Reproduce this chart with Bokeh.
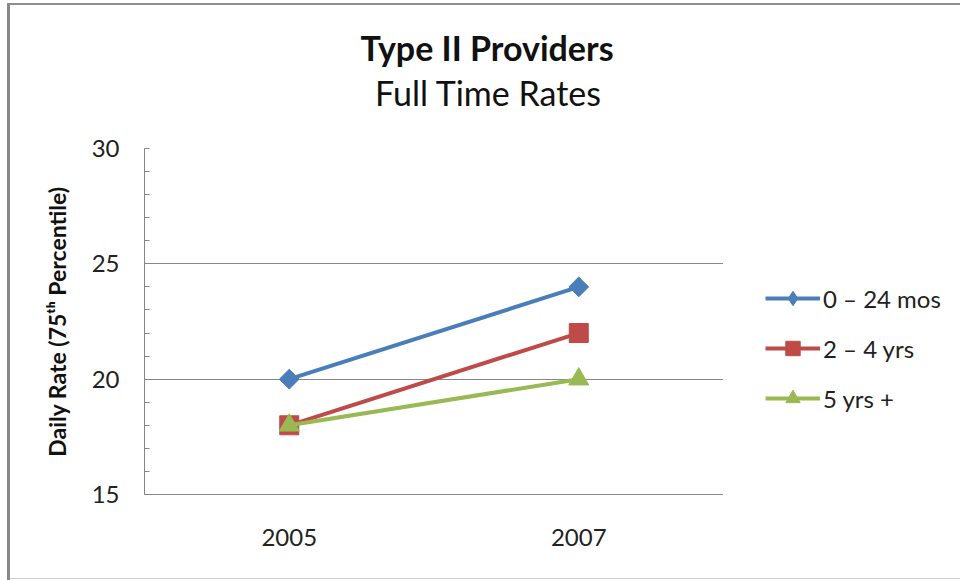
import math
from bokeh.plotting import figure
from bokeh.models import Range1d, FactorRange, Legend, LegendItem, FixedTicker, Div
from bokeh.layouts import column, row
from bokeh.embed import file_html
from bokeh.resources import INLINE

years = ["2005", "2007"]
series_names = ["0 \u2013 24 mos", "2 \u2013 4 yrs", "5 yrs +"]
vals_0_24 = [20, 24]
vals_2_4 = [18, 22]
vals_5_plus = [18, 20]
y_ticks = [15, 20, 25, 30]
title_main = "Type II Providers"
title_sub = "Full Time Rates"
y_label = "Daily Rate (75\u1d57\u02b0 Percentile)"

FONT = "Lato"
colors = ["#4A7EBB", "#BE4B48", "#98B954"]


def add_series(fig, diamond_as_square=True):
    r1 = fig.line(years, vals_0_24, line_color=colors[0], line_width=4)
    if diamond_as_square:
        m1 = fig.scatter(years, vals_0_24, marker="square", size=14, angle=math.pi / 4,
                         fill_color=colors[0], line_color=colors[0])
    else:
        m1 = fig.scatter(years, vals_0_24, marker="diamond", size=20,
                         fill_color=colors[0], line_color=colors[0])
    r2 = fig.line(years, vals_2_4, line_color=colors[1], line_width=4)
    m2 = fig.scatter(years, vals_2_4, marker="square", size=19, fill_color=colors[1], line_color=colors[1])
    r3 = fig.line(years, vals_5_plus, line_color=colors[2], line_width=4)
    m3 = fig.scatter(years, vals_5_plus, marker="triangle", size=20, fill_color=colors[2], line_color=colors[2])
    return [(r1, m1), (r2, m2), (r3, m3)]


# title block
title_div = Div(
    width=960, height=128,
    text=('<div style="position:relative;width:960px;height:128px;font-family:Lato;color:#111111">'
          '<div style="position:absolute;left:0;top:27px;width:974px;text-align:center;'
          'font-weight:bold;font-size:34px;line-height:42px;">' + title_main + '</div>'
          '<div style="position:absolute;left:0;top:72px;width:976px;text-align:center;'
          'font-weight:normal;font-size:34px;line-height:42px;">' + title_sub + '</div></div>'),
    styles={"margin": "0", "padding": "0"})

# main chart
p = figure(width=723, height=452, output_backend="svg", toolbar_location=None,
           x_range=FactorRange(*years, range_padding=0), y_range=Range1d(15, 30),
           min_border_left=144, min_border_right=0, min_border_top=20, min_border_bottom=86)
p.outline_line_color = None
p.background_fill_color = "white"
p.border_fill_alpha = 0
add_series(p)

p.yaxis.ticker = FixedTicker(ticks=y_ticks, minor_ticks=list(range(15, 31)))
p.yaxis.major_tick_out = 0
p.yaxis.major_tick_in = 0
p.yaxis.minor_tick_in = 5
p.yaxis.minor_tick_out = 0
p.yaxis.minor_tick_line_color = "#868686"
p.yaxis.axis_line_color = "#868686"
p.yaxis.major_label_text_font = FONT
p.yaxis.major_label_text_font_size = "24px"
p.yaxis.major_label_text_color = "#222222"
p.yaxis.major_label_standoff = 25
p.yaxis.axis_label = y_label
p.yaxis.axis_label_text_font = FONT
p.yaxis.axis_label_text_font_style = "bold"
p.yaxis.axis_label_text_font_size = "23px"
p.yaxis.axis_label_text_color = "#111111"
p.yaxis.axis_label_standoff = 18

p.xaxis.major_tick_out = 0
p.xaxis.major_tick_in = 0
p.xaxis.axis_line_color = "#868686"
p.xaxis.major_label_text_font = FONT
p.xaxis.major_label_text_font_size = "24px"
p.xaxis.major_label_text_color = "#222222"
p.xaxis.major_label_standoff = 34

p.xgrid.grid_line_color = None
p.ygrid.grid_line_color = "#878787"
p.ygrid.grid_line_width = 1

# legend panel (series drawn out of view, only used for legend glyphs)
p2 = figure(width=237, height=452, output_backend="svg", toolbar_location=None,
            x_range=FactorRange(*years), y_range=Range1d(100, 101),
            min_border=0, x_axis_location=None, y_axis_location=None)
p2.outline_line_color = None
p2.grid.grid_line_color = None
p2.background_fill_alpha = 0
p2.border_fill_alpha = 0
pairs = add_series(p2, diamond_as_square=False)

legend = Legend(items=[LegendItem(label=series_names[i], renderers=list(pairs[i])) for i in range(3)],
                location=(42, 78), orientation="vertical")
legend.glyph_width = 55
legend.glyph_height = 36
legend.label_height = 36
legend.label_text_font = FONT
legend.label_text_font_size = "24px"
legend.label_text_color = "#222222"
legend.label_standoff = 3
legend.spacing = 14
legend.border_line_color = None
legend.background_fill_alpha = 0
legend.padding = 0
legend.margin = 0
p2.add_layout(legend)

layout = column(title_div, row(p, p2, spacing=0), spacing=0)
layout.styles = {
    "background": ("linear-gradient(#888888,#888888) 7px 4px / 3px 576px no-repeat, "
                   "linear-gradient(#8f8f8f,#8f8f8f) 7px 3px / 953px 2px no-repeat, "
                   "linear-gradient(#cfcfcf,#cfcfcf) 7px 578px / 953px 1px no-repeat, white")
}
open("out.html", "w").write(file_html(layout, INLINE))
